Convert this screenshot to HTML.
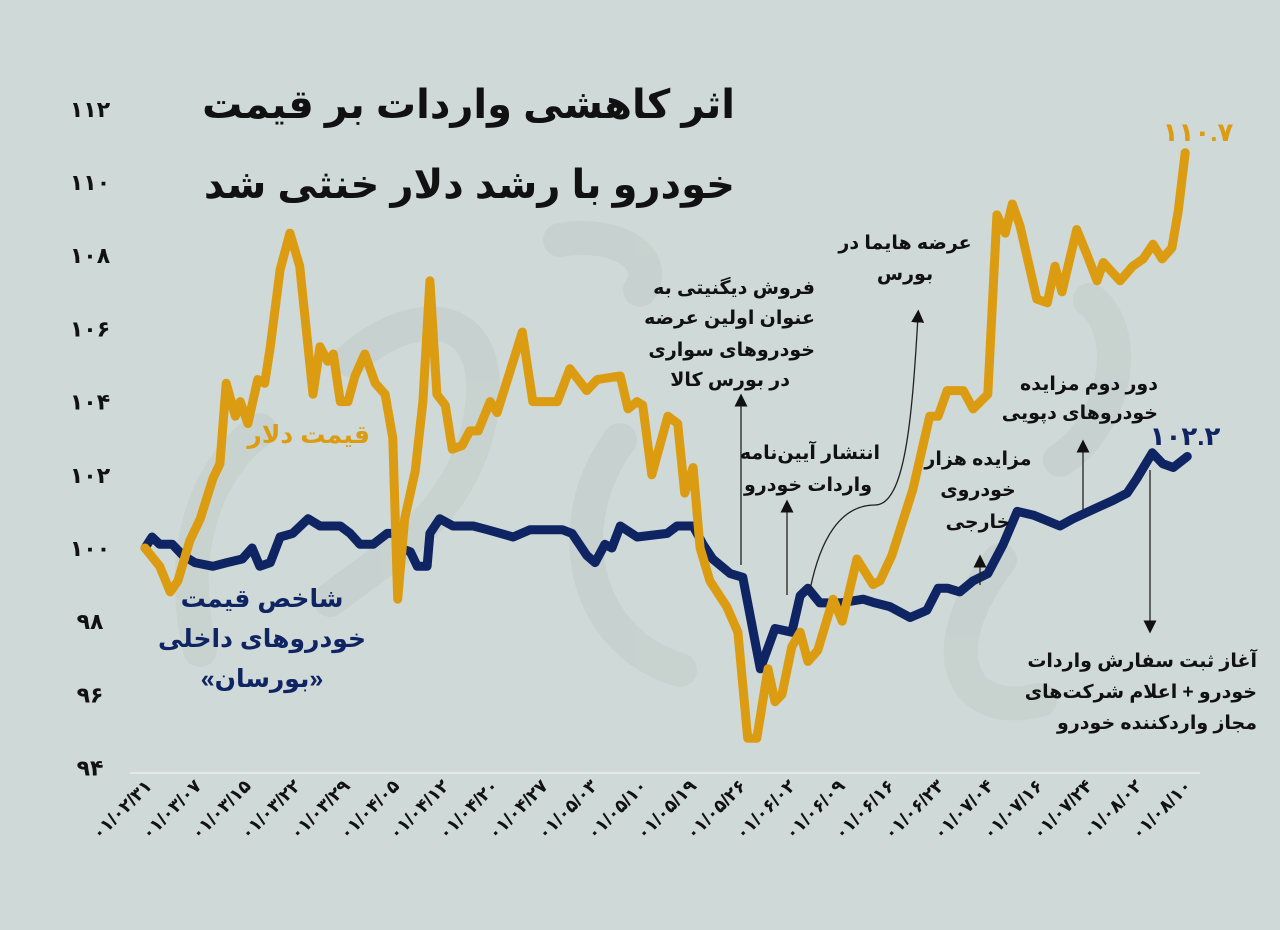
<!DOCTYPE html>
<html><head><meta charset="utf-8">
<style>
html,body{margin:0;padding:0;background:#cfd9d7;}
svg{display:block;font-family:"Liberation Sans","DejaVu Sans",sans-serif;}
.ann{font-size:19px;font-weight:bold;fill:#111;}
</style></head>
<body>
<svg id="chart" width="1280" height="930" viewBox="0 0 1280 930" xmlns="http://www.w3.org/2000/svg">
<rect width="1280" height="930" fill="#cfd9d7"/>
<g fill="none" stroke="#bfcbc8" stroke-width="34" stroke-linecap="round" opacity="0.45">
<path d="M200 650 C170 520 230 450 260 430"/>
<path d="M350 360 C420 300 500 310 480 420 C460 520 380 560 330 600"/>
<path d="M620 440 C560 520 580 640 680 670"/>
<path d="M560 240 C620 230 660 260 640 290"/>
<path d="M1000 560 C930 650 960 720 1040 700"/>
<path d="M1090 300 C1130 330 1120 420 1060 460"/>
</g>
<line x1="130" y1="773" x2="1200" y2="773" stroke="#e3e9e7" stroke-width="2"/>
<g id="yticks"></g>
<g id="xticks"></g>
<g id="series"></g>

<g font-size="40" font-weight="bold" fill="#111" text-anchor="start" direction="rtl">
<text x="735" y="118">اثر کاهشی واردات بر قیمت</text>
<text x="735" y="198">خودرو با رشد دلار خنثی شد</text>
</g>

<text x="370" y="443" font-size="25" font-weight="bold" fill="#dc9c12" text-anchor="start" direction="rtl">قیمت دلار</text>
<g font-size="25" font-weight="bold" fill="#0f2463" text-anchor="middle" direction="rtl">
<text x="262" y="607">شاخص قیمت</text>
<text x="262" y="647">خودروهای داخلی</text>
<text x="262" y="687">«بورسان»</text>
</g>
<text x="1198" y="141" font-size="26" font-weight="bold" fill="#dc9c12" text-anchor="middle">۱۱۰.۷</text>
<text x="1185" y="445" font-size="26" font-weight="bold" fill="#0f2463" text-anchor="middle">۱۰۲.۲</text>

<defs><marker id="ah" markerWidth="10" markerHeight="10" refX="5" refY="5" orient="auto"><path d="M0,0 L10,5 L0,10 z" fill="#111"/></marker></defs>
<g stroke="#222" stroke-width="1.3" fill="none">
<line x1="741" y1="565" x2="741" y2="400" marker-end="url(#ah)"/>
<line x1="787" y1="595" x2="787" y2="506" marker-end="url(#ah)"/>
<path d="M810 590 C820 540 840 505 875 505 C905 505 912 420 918 316" marker-end="url(#ah)"/>
<line x1="980" y1="585" x2="980" y2="561" marker-end="url(#ah)"/>
<line x1="1083" y1="510" x2="1083" y2="446" marker-end="url(#ah)"/>
<line x1="1150" y1="470" x2="1150" y2="627" marker-end="url(#ah)"/>
</g>
<g class="ann" text-anchor="start" direction="rtl">
<text x="815" y="294">فروش دیگنیتی به</text>
<text x="815" y="324">عنوان اولین عرضه</text>
<text x="815" y="356">خودروهای سواری</text>
<text x="790" y="386">در بورس کالا</text>
</g>
<g class="ann" text-anchor="start" direction="rtl">
<text x="880" y="459">انتشار آیین‌نامه</text>
<text x="872" y="491">واردات خودرو</text>
</g>
<g class="ann" text-anchor="middle" direction="rtl">
<text x="905" y="249">عرضه هایما در</text>
<text x="905" y="280">بورس</text>
</g>
<g class="ann" text-anchor="middle" direction="rtl">
<text x="978" y="465">مزایده هزار</text>
<text x="978" y="496">خودروی</text>
<text x="978" y="528">خارجی</text>
</g>
<g class="ann" text-anchor="start" direction="rtl">
<text x="1158" y="390">دور دوم مزایده</text>
<text x="1158" y="419">خودروهای دپویی</text>
</g>
<g class="ann" text-anchor="start" direction="rtl">
<text x="1257" y="667">آغاز ثبت سفارش واردات</text>
<text x="1257" y="698">خودرو + اعلام شرکت‌های</text>
<text x="1257" y="729">مجاز واردکننده خودرو</text>
</g>
</svg>
<script>
const yTicks = [94,96,98,100,102,104,106,108,110,112];
const yTickLabels = ["۹۴","۹۶","۹۸","۱۰۰","۱۰۲","۱۰۴","۱۰۶","۱۰۸","۱۱۰","۱۱۲"];
const xTickLabels = ["۰۱/۰۲/۳۱","۰۱/۰۳/۰۷","۰۱/۰۳/۱۵","۰۱/۰۳/۲۲","۰۱/۰۳/۲۹","۰۱/۰۴/۰۵","۰۱/۰۴/۱۲","۰۱/۰۴/۲۰","۰۱/۰۴/۲۷","۰۱/۰۵/۰۳","۰۱/۰۵/۱۰","۰۱/۰۵/۱۹","۰۱/۰۵/۲۶","۰۱/۰۶/۰۲","۰۱/۰۶/۰۹","۰۱/۰۶/۱۶","۰۱/۰۶/۲۳","۰۱/۰۷/۰۴","۰۱/۰۷/۱۶","۰۱/۰۷/۲۴","۰۱/۰۸/۰۲","۰۱/۰۸/۱۰"];
const dollarT = [0,2.1,3.6,4.7,6.4,7.9,9.7,10.7,11.6,12.9,13.6,14.7,16.1,17.1,17.9,19.3,20.7,22.1,24.0,25.0,26.1,26.9,27.9,29.0,30.0,31.4,32.9,34.3,35.4,36.1,37.1,38.6,39.7,40.7,41.7,42.9,43.9,45.3,46.4,47.6,49.3,50.3,53.9,55.4,58.9,60.7,63.1,64.6,67.9,69.0,70.3,71.1,72.4,74.7,76.1,77.1,78.3,79.3,80.7,83.1,84.7,86.1,87.4,89.0,90.0,91.0,92.4,93.6,94.7,96.1,98.3,99.6,101.7,104.0,105.0,106.7,109.7,112.1,113.3,114.6,116.9,118.3,120.4,121.7,122.9,123.9,125.0,127.4,128.9,130.0,131.0,133.1,134.6,136.0,136.9,139.3,141.1,142.6,144.0,145.3,146.7,147.6,148.6];
const dollarV = [100,99.5,98.8,99.1,100.2,100.8,101.9,102.3,104.5,103.6,104.0,103.4,104.6,104.5,105.5,107.6,108.6,107.7,104.2,105.5,105.1,105.3,104.0,104.0,104.7,105.3,104.5,104.2,103.0,98.6,100.8,102.1,104.0,107.3,104.2,103.9,102.7,102.8,103.2,103.2,104.0,103.7,105.9,104.0,104.0,104.9,104.3,104.6,104.7,103.8,104.0,103.9,102.0,103.6,103.4,101.5,102.2,100.0,99.1,98.4,97.7,94.8,94.8,96.7,95.8,96.0,97.3,97.7,96.9,97.2,98.6,98.0,99.7,99.0,99.1,99.8,101.6,103.6,103.6,104.3,104.3,103.8,104.2,109.1,108.6,109.4,108.8,106.8,106.7,107.7,107.0,108.7,108.0,107.3,107.8,107.3,107.7,107.9,108.3,107.9,108.2,109.2,110.8];
const carT = [0,1.0,2.1,3.9,5.4,7.1,9.7,11.7,13.9,15.3,16.4,17.9,19.3,21.1,23.3,25.0,27.9,29.3,30.7,32.6,34.6,35.7,36.4,37.9,38.9,40.3,40.7,42.1,44.0,46.9,48.9,52.6,55.0,59.6,61.0,63.1,64.3,65.7,66.7,67.9,70.3,74.6,76.0,78.3,79.7,81.1,83.6,85.4,87.9,90.0,92.4,93.6,94.7,96.4,99.3,102.6,104.3,106.4,109.3,111.7,113.3,114.7,116.4,118.3,120.4,122.6,124.6,126.9,130.7,132.6,136.0,138.3,140.3,141.7,143.9,145.4,146.9,148.9];
const carV = [100,100.3,100.1,100.1,99.8,99.6,99.5,99.6,99.7,100.0,99.5,99.6,100.3,100.4,100.8,100.6,100.6,100.4,100.1,100.1,100.4,100.4,100.0,99.9,99.5,99.5,100.4,100.8,100.6,100.6,100.5,100.3,100.5,100.5,100.4,99.8,99.6,100.1,100.0,100.6,100.3,100.4,100.6,100.6,100.1,99.7,99.3,99.2,96.7,97.8,97.7,98.7,98.9,98.5,98.5,98.6,98.5,98.4,98.1,98.3,98.9,98.9,98.8,99.1,99.3,100.1,101.0,100.9,100.6,100.8,101.1,101.3,101.5,101.9,102.6,102.3,102.2,102.5];

const NS = "http://www.w3.org/2000/svg";
function xScale(t){ return 145 + t * 7; }
function yScale(v){ return 548 - (v - 100) * 36.6; }

const yg = document.getElementById('yticks');
yTicks.forEach((v, i) => {
  const t = document.createElementNS(NS, 'text');
  t.setAttribute('x', 90); t.setAttribute('y', yScale(v) + 8);
  t.setAttribute('text-anchor', 'middle'); t.setAttribute('font-size', '22');
  t.setAttribute('font-weight', 'bold'); t.setAttribute('fill', '#111');
  t.textContent = yTickLabels[i];
  
  
  yg.appendChild(t);
});

const xg = document.getElementById('xticks');
xTickLabels.forEach((s, i) => {
  const x = 153 + i * 49.5, y = 787;
  const t = document.createElementNS(NS, 'text');
  t.setAttribute('x', x); t.setAttribute('y', y);
  t.setAttribute('text-anchor', 'end'); t.setAttribute('font-size', '18');
  t.setAttribute('font-weight', 'bold'); t.setAttribute('fill', '#111');
  t.setAttribute('direction', 'ltr');
  t.setAttribute('transform', 'rotate(-45 ' + x + ' ' + y + ')');
  t.textContent = s;
  
  
  xg.appendChild(t);
});

function drawLine(ts, vs, color, name){
  const p = document.createElementNS(NS, 'path');
  let d = '';
  ts.forEach((t, i) => { d += (i ? 'L' : 'M') + xScale(t).toFixed(1) + ' ' + yScale(vs[i]).toFixed(1); });
  p.setAttribute('d', d);
  p.setAttribute('fill', 'none'); p.setAttribute('stroke', color);
  p.setAttribute('stroke-width', '9'); p.setAttribute('stroke-linejoin', 'round');
  p.setAttribute('stroke-linecap', 'round');
  
  
  document.getElementById('series').appendChild(p);
}
drawLine(carT, carV, '#0f2463', 'car-index-line');
drawLine(dollarT, dollarV, '#dc9c12', 'dollar-line');
</script>
</body></html>
